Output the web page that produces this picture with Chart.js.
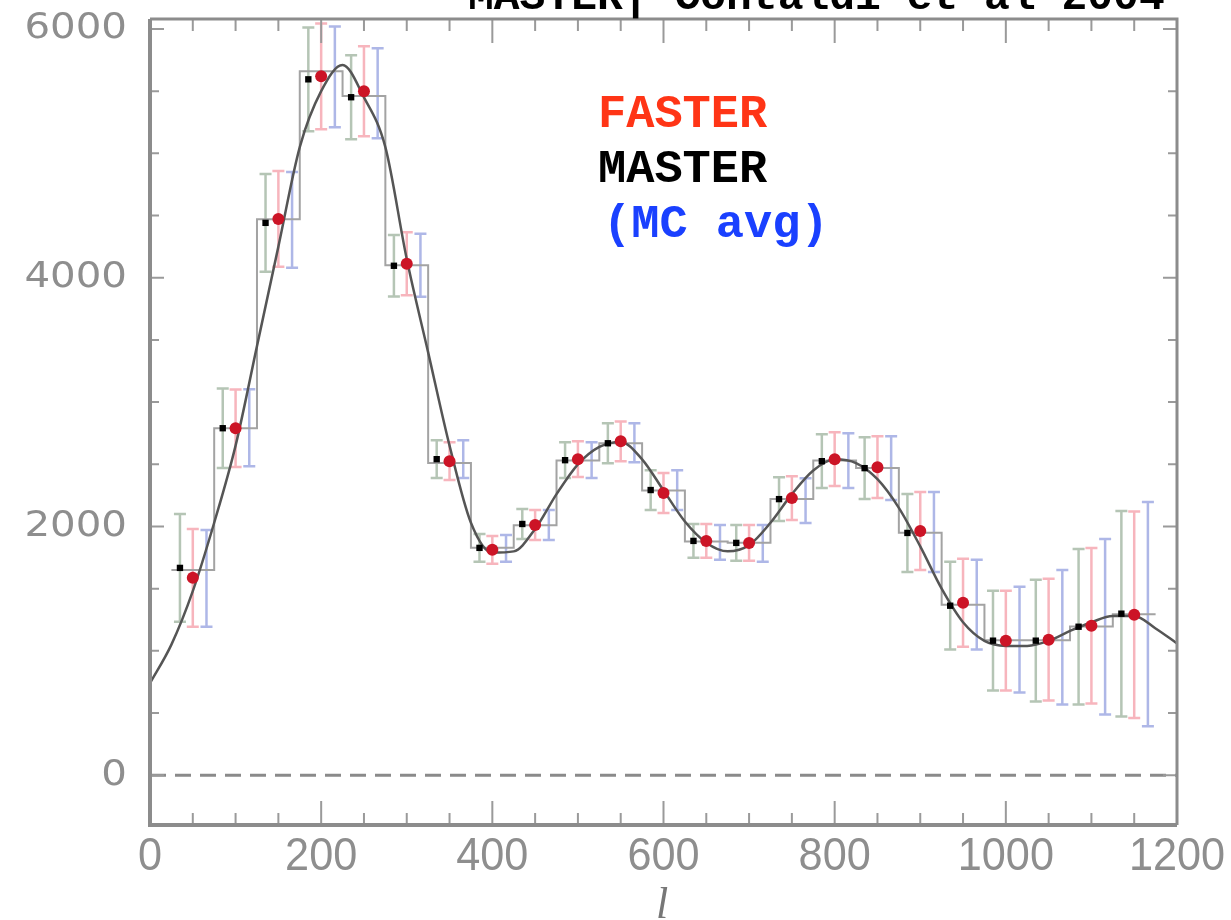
<!DOCTYPE html>
<html>
<head>
<meta charset="utf-8">
<script src="https://cdn.jsdelivr.net/npm/chart.js@4.4.1/dist/chart.umd.min.js"></script>
<style>
    html, body { margin: 0; padding: 0; background: #fff; }
</style>
</head>
<body>
<canvas id="grafico" width="1231" height="920"></canvas>
<script>
// centros dos bins em multipolo
const ell = [50, 100, 150, 200, 250, 300, 350, 400, 450, 500, 550, 600,
             650, 700, 750, 800, 850, 900, 950, 1000, 1050, 1100, 1150];

// espectro MASTER (pontos pretos)
const master = [1667, 2790, 4441, 5595, 5451, 4096, 2541, 1828, 2020, 2533, 2669, 2293,
                1884, 1868, 2220, 2525, 2469, 1948, 1363, 1082, 1082, 1194, 1299];
const masterErr = [433, 320, 393, 417, 337, 248, 152, 112, 120, 144, 160, 160,
                   136, 144, 176, 216, 248, 313, 353, 401, 489, 625, 826];

// espectro FASTER (pontos vermelhos)
const faster = [1587, 2790, 4473, 5619, 5499, 4112, 2525, 1812, 2012, 2541, 2685, 2269,
                1884, 1868, 2228, 2541, 2477, 1964, 1387, 1082, 1090, 1202, 1291];
const fasterErr = [393, 312, 385, 425, 361, 253, 152, 112, 120, 144, 160, 160,
                   136, 144, 176, 216, 248, 313, 353, 401, 489, 625, 830];

// media das simulacoes MC (so barras azuis)
const mcAvg = [1583, 2794, 4465, 5615, 5483, 4100, 2541, 1824, 2012, 2533, 2673, 2293,
               1872, 1864, 2208, 2529, 2469, 1956, 1371, 1090, 1110, 1194, 1295];
const mcErr = [389, 309, 385, 405, 361, 253, 152, 108, 120, 144, 156, 160,
               140, 148, 180, 220, 257, 321, 361, 425, 541, 705, 902];

// teoria binada (degraus cinza)
const binTheory = [1650, 2790, 4470, 5660, 5460, 4100, 2510, 1830, 2010, 2530, 2670, 2290,
                   1880, 1870, 2220, 2530, 2470, 1950, 1370, 1085, 1085, 1195, 1295];

// curva teorica continua
const theoryEll = [0, 25, 50, 75, 100, 125, 150, 175, 200, 225, 250, 275, 300, 325, 350, 375,
                   400, 425, 450, 475, 500, 525, 550, 575, 600, 625, 650, 675, 700, 725, 750,
                   775, 800, 825, 850, 875, 900, 925, 950, 975, 1000, 1025, 1050, 1075, 1100,
                   1125, 1150, 1175, 1200];
const theoryCl = [740, 1050, 1480, 2030, 2650, 3450, 4250, 5050, 5500, 5710, 5450, 5050, 4150,
                  3400, 2650, 2030, 1790, 1800, 1980, 2260, 2500, 2640, 2680, 2540, 2290, 2040,
                  1870, 1800, 1850, 2030, 2260, 2450, 2540, 2510, 2380, 2150, 1840, 1500, 1230,
                  1080, 1040, 1040, 1080, 1160, 1230, 1280, 1280, 1180, 1060];

const xLabels = [0, 200, 400, 600, 800, 1000, 1200];
const yLabels = [0, 2000, 4000, 6000];

const legenda = [
    { texto: 'FASTER', cor: '#ff3516' },
    { texto: 'MASTER', cor: '#000000' },
    { texto: '(MC avg)', cor: '#1a40ff' }
];

const DESLOC_MASTER = -15;
const DESLOC_FASTER = 0;
const DESLOC_MC = 16;

function pontos(xs, ys, desloc) {
    return xs.map((l, i) => ({ x: l + desloc, y: ys[i] }));
}

// degraus: cada bin vai de l-25 ate l+25
function degraus() {
    const d = ell.map((l, i) => ({ x: l - 25, y: binTheory[i] }));
    d.push({ x: ell[ell.length - 1] + 25, y: binTheory[binTheory.length - 1] });
    return d;
}

function desenharBarras(ctx, x, y, valores, erros, desloc, cor) {
    ctx.strokeStyle = cor;
    ctx.lineWidth = 2.5;
    ell.forEach((l, i) => {
        const px = x.getPixelForValue(l + desloc);
        const topo = y.getPixelForValue(valores[i] + erros[i]);
        const base = y.getPixelForValue(valores[i] - erros[i]);
        ctx.beginPath();
        ctx.moveTo(px, topo); ctx.lineTo(px, base);
        ctx.moveTo(px - 6, topo); ctx.lineTo(px + 6, topo);
        ctx.moveTo(px - 6, base); ctx.lineTo(px + 6, base);
        ctx.stroke();
    });
}

const barrasErro = {
    id: 'barrasErro',
    beforeDatasetsDraw(chart) {
        const { ctx, chartArea: a, scales: { x, y } } = chart;
        ctx.save();
        ctx.beginPath();
        ctx.rect(a.left, a.top, a.right - a.left, a.bottom - a.top);
        ctx.clip();
        desenharBarras(ctx, x, y, mcAvg, mcErr, DESLOC_MC, 'rgba(120,135,215,0.6)');
        desenharBarras(ctx, x, y, faster, fasterErr, DESLOC_FASTER, 'rgba(240,120,135,0.55)');
        desenharBarras(ctx, x, y, master, masterErr, DESLOC_MASTER, 'rgba(120,150,120,0.55)');
        ctx.restore();
    }
};

const moldura = {
    id: 'moldura',
    afterDraw(chart) {
        const { ctx, chartArea: a, scales: { x, y } } = chart;
        ctx.save();

        // marcas internas
        ctx.strokeStyle = '#9a9a9a';
        ctx.lineWidth = 2;
        for (let l = 0; l <= 1200; l += 50) {
            const px = x.getPixelForValue(l);
            const tam = l % 200 === 0 ? 24 : 12;
            ctx.beginPath();
            ctx.moveTo(px, a.bottom); ctx.lineTo(px, a.bottom - tam);
            ctx.moveTo(px, a.top); ctx.lineTo(px, a.top + tam);
            ctx.stroke();
        }
        for (let v = 0; v <= 6000; v += 500) {
            const py = y.getPixelForValue(v);
            const tam = v % 2000 === 0 ? 14 : 9;
            ctx.beginPath();
            ctx.moveTo(a.left, py); ctx.lineTo(a.left + tam, py);
            ctx.moveTo(a.right, py); ctx.lineTo(a.right - tam, py);
            ctx.stroke();
        }

        // bordas
        ctx.strokeStyle = '#8c8c8c';
        ctx.lineWidth = 4;
        ctx.beginPath();
        ctx.moveTo(a.left, a.top); ctx.lineTo(a.left, a.bottom); ctx.lineTo(a.right, a.bottom);
        ctx.stroke();
        ctx.lineWidth = 3;
        ctx.beginPath();
        ctx.moveTo(a.left, a.top); ctx.lineTo(a.right, a.top); ctx.lineTo(a.right, a.bottom);
        ctx.stroke();

        // rotulos do eixo x (fonte estreita e alta)
        ctx.fillStyle = '#8e8e8e';
        ctx.font = '46px "Liberation Sans"';
        ctx.textAlign = 'center';
        ctx.textBaseline = 'middle';
        xLabels.forEach(l => {
            ctx.save();
            ctx.translate(x.getPixelForValue(l), 857);
            ctx.scale(0.94, 1);
            ctx.fillText(String(l), 0, 0);
            ctx.restore();
        });

        // rotulos do eixo y
        ctx.font = '36px "DejaVu Sans"';
        ctx.textAlign = 'right';
        yLabels.forEach(v => {
            ctx.save();
            ctx.translate(127, y.getPixelForValue(v));
            ctx.scale(1.12, 1);
            ctx.fillText(String(v), 0, 0);
            ctx.restore();
        });

        // titulo do eixo x
        ctx.fillStyle = '#777';
        ctx.font = 'italic 44px "Liberation Serif"';
        ctx.textAlign = 'center';
        ctx.textBaseline = 'alphabetic';
        ctx.fillText('l', 662, 918);

        // titulo cortado no topo
        ctx.fillStyle = '#000';
        ctx.font = 'bold 43px "Liberation Mono"';
        ctx.textAlign = 'left';
        ctx.fillText('MASTER| Contaldi et al 2004', 468, 9);

        // legenda
        ctx.font = 'bold 47px "Liberation Mono"';
        legenda.forEach((item, i) => {
            ctx.fillStyle = item.cor;
            ctx.fillText(item.texto, i === 2 ? 603 : 598, 127 + i * 55);
        });
        ctx.restore();
    }
};

const ctx = document.getElementById('grafico').getContext('2d');

const grafico = new Chart(ctx, {
    type: 'line',
    data: {
        datasets: [
            {
                label: 'MASTER',
                data: pontos(ell, master, DESLOC_MASTER),
                showLine: false,
                pointStyle: 'rect',
                pointRadius: 4.5,
                backgroundColor: '#000',
                borderColor: '#000',
                borderWidth: 0,
                order: 0
            },
            {
                label: 'FASTER',
                data: pontos(ell, faster, DESLOC_FASTER),
                showLine: false,
                pointStyle: 'circle',
                pointRadius: 6,
                backgroundColor: '#cc1426',
                borderColor: '#cc1426',
                borderWidth: 0,
                order: 0
            },
            {
                label: 'teoria',
                data: pontos(theoryEll, theoryCl, 0),
                borderColor: '#555',
                borderWidth: 2.5,
                pointRadius: 0,
                cubicInterpolationMode: 'monotone',
                order: 1
            },
            {
                label: 'teoria binada',
                data: degraus(),
                stepped: 'before',
                borderColor: '#a3a3a3',
                borderWidth: 2,
                pointRadius: 0,
                order: 2
            },
            {
                label: 'zero',
                data: [{ x: 0, y: 0 }, { x: 1200, y: 0 }],
                borderColor: '#8a8a8a',
                borderWidth: 3,
                borderDash: [16, 9],
                pointRadius: 0,
                order: 3
            }
        ]
    },
    options: {
        responsive: false,
        animation: false,
        layout: { padding: { top: 19, right: 54, left: 0, bottom: 0 } },
        plugins: { legend: { display: false }, tooltip: { enabled: false } },
        scales: {
            x: {
                type: 'linear',
                min: 0,
                max: 1200,
                ticks: { display: false },
                grid: { display: false },
                border: { display: false },
                afterFit(scale) { scale.height = 95; }
            },
            y: {
                min: -400,
                max: 6080,
                ticks: { display: false },
                grid: { display: false },
                border: { display: false },
                afterFit(scale) { scale.width = 150; }
            }
        }
    },
    plugins: [barrasErro, moldura]
});
</script>
</body>
</html>
